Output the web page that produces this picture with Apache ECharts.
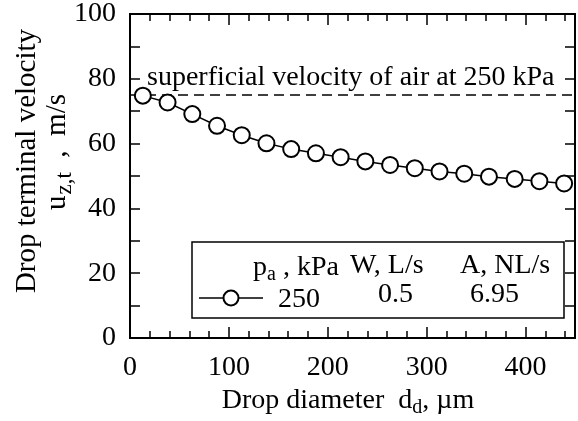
<!DOCTYPE html>
<html>
<head>
<meta charset="utf-8">
<script src="https://cdn.jsdelivr.net/npm/echarts@6/dist/echarts.min.js"></script>
<style>
html, body { margin: 0; padding: 0; background: #fff; }
#chart { width: 578px; height: 421px; }
</style>
</head>
<body>
<div id="chart"></div>
<script>
// drop diameter (um) and terminal velocity (m/s)
var diameters = [13, 38, 63, 88, 113, 138, 163, 188, 213, 238, 263, 288, 313, 338, 363, 389, 414, 439];
var velocities = [74.8, 72.7, 69.1, 65.5, 62.6, 60.1, 58.3, 57.0, 55.8, 54.5, 53.4, 52.4, 51.4, 50.7, 49.8, 49.1, 48.4, 47.7];
var superficialVelocity = 75;
var xRange = [0, 450];
var yRange = [0, 100];

var serif = '"Liberation Serif", "DejaVu Serif", serif';
var black = '#000';
var fs = 28;

var points = [];
for (var i = 0; i < diameters.length; i++) {
    points.push([diameters[i], velocities[i]]);
}

function boxAxis(pos, interval, tickLen, showLabel) {
    return {
        type: 'value',
        position: pos,
        min: xRange[0],
        max: xRange[1],
        interval: interval,
        axisLine: { show: true, onZero: false, lineStyle: { color: black, width: 2 } },
        axisTick: { show: true, inside: true, length: tickLen, lineStyle: { color: black, width: 1.5 } },
        axisLabel: {
            show: showLabel,
            margin: 16,
            color: black,
            fontFamily: serif,
            fontSize: fs,
            formatter: function (v) { return v % 100 === 0 ? String(v) : ''; }
        },
        splitLine: { show: false }
    };
}

function yBoxAxis(pos, showLabel) {
    return {
        type: 'value',
        position: pos,
        min: yRange[0],
        max: yRange[1],
        interval: 10,
        axisLine: { show: true, onZero: false, lineStyle: { color: black, width: 2 } },
        axisTick: { show: true, inside: true, length: 10, lineStyle: { color: black, width: 1.5 } },
        axisLabel: {
            show: showLabel,
            margin: 14,
            color: black,
            fontFamily: serif,
            fontSize: fs,
            formatter: function (v) { return v % 20 === 0 ? String(v) : ''; }
        },
        splitLine: { show: false }
    };
}

var sub = {
    n: { fontFamily: serif, fontSize: fs, fill: black },
    s: { fontFamily: serif, fontSize: 20, fill: black, padding: [14, 0, 0, 0] }
};
var subY = {
    n: { fontFamily: serif, fontSize: 29, fill: black },
    s: { fontFamily: serif, fontSize: 23, fill: black, padding: [15, 0, 0, 1] }
};

function plain(txt, x, y) {
    return { type: 'text', x: x, y: y,
             style: { text: txt, font: fs + 'px ' + serif, fill: black, textAlign: 'left', textVerticalAlign: 'middle' } };
}

var chart = echarts.init(document.getElementById('chart'));
chart.setOption({
    animation: false,
    backgroundColor: '#fff',
    grid: { left: 130, right: 3, top: 14, bottom: 83 },
    xAxis: [
        boxAxis('bottom', 20, 7, true),
        boxAxis('bottom', 100, 11, false),
        boxAxis('top', 20, 7, false),
        boxAxis('top', 100, 11, false)
    ],
    yAxis: [
        yBoxAxis('left', true),
        yBoxAxis('right', false)
    ],
    series: [
        {
            type: 'line',
            data: [[xRange[0], superficialVelocity], [xRange[1], superficialVelocity]],
            symbol: 'none',
            lineStyle: { color: black, width: 1.5, type: [10, 6] },
            z: 1
        },
        {
            type: 'line',
            data: points,
            symbol: 'circle',
            symbolSize: 16,
            itemStyle: { color: '#fff', borderColor: black, borderWidth: 2 },
            lineStyle: { color: black, width: 1.5 },
            z: 3
        }
    ],
    graphic: [
        {
            type: 'text', x: 147, y: 78,
            style: { text: 'superficial velocity of air at 250 kPa', font: fs + 'px ' + serif, fill: black,
                     textAlign: 'left', textVerticalAlign: 'middle' },
            z: 10
        },
        {
            type: 'text', x: 27, y: 161, rotation: Math.PI / 2,
            style: { text: 'Drop terminal velocity', font: '29px ' + serif, fill: black,
                     textAlign: 'center', textVerticalAlign: 'middle' }
        },
        {
            type: 'text', x: 57, y: 152, rotation: Math.PI / 2,
            style: { text: '{n|u}{s|z,t}{n|  ,  m/s}', textAlign: 'center', textVerticalAlign: 'middle', rich: subY }
        },
        {
            type: 'text', x: 348, y: 401,
            style: { text: '{n|Drop diameter  d}{s|d}{n|, \u00b5m}', textAlign: 'center', textVerticalAlign: 'middle', rich: sub }
        },
        {
            type: 'group', z: 20,
            children: [
                { type: 'rect', shape: { x: 192, y: 242, width: 372, height: 76 },
                  style: { fill: '#fff', stroke: black, lineWidth: 1.5 } },
                { type: 'line', shape: { x1: 199, y1: 298, x2: 263, y2: 298 },
                  style: { stroke: black, lineWidth: 1.5 } },
                { type: 'circle', shape: { cx: 231, cy: 298, r: 7.5 },
                  style: { fill: '#fff', stroke: black, lineWidth: 2 } },
                { type: 'text', x: 253, y: 268,
                  style: { text: '{n|p}{s|a}{n| , kPa}', textAlign: 'left', textVerticalAlign: 'middle', rich: sub } },
                plain('W, L/s', 350, 266),
                plain('A, NL/s', 460, 266),
                plain('250', 278, 300),
                plain('0.5', 378, 295),
                plain('6.95', 470, 295)
            ]
        }
    ]
});
</script>
</body>
</html>
